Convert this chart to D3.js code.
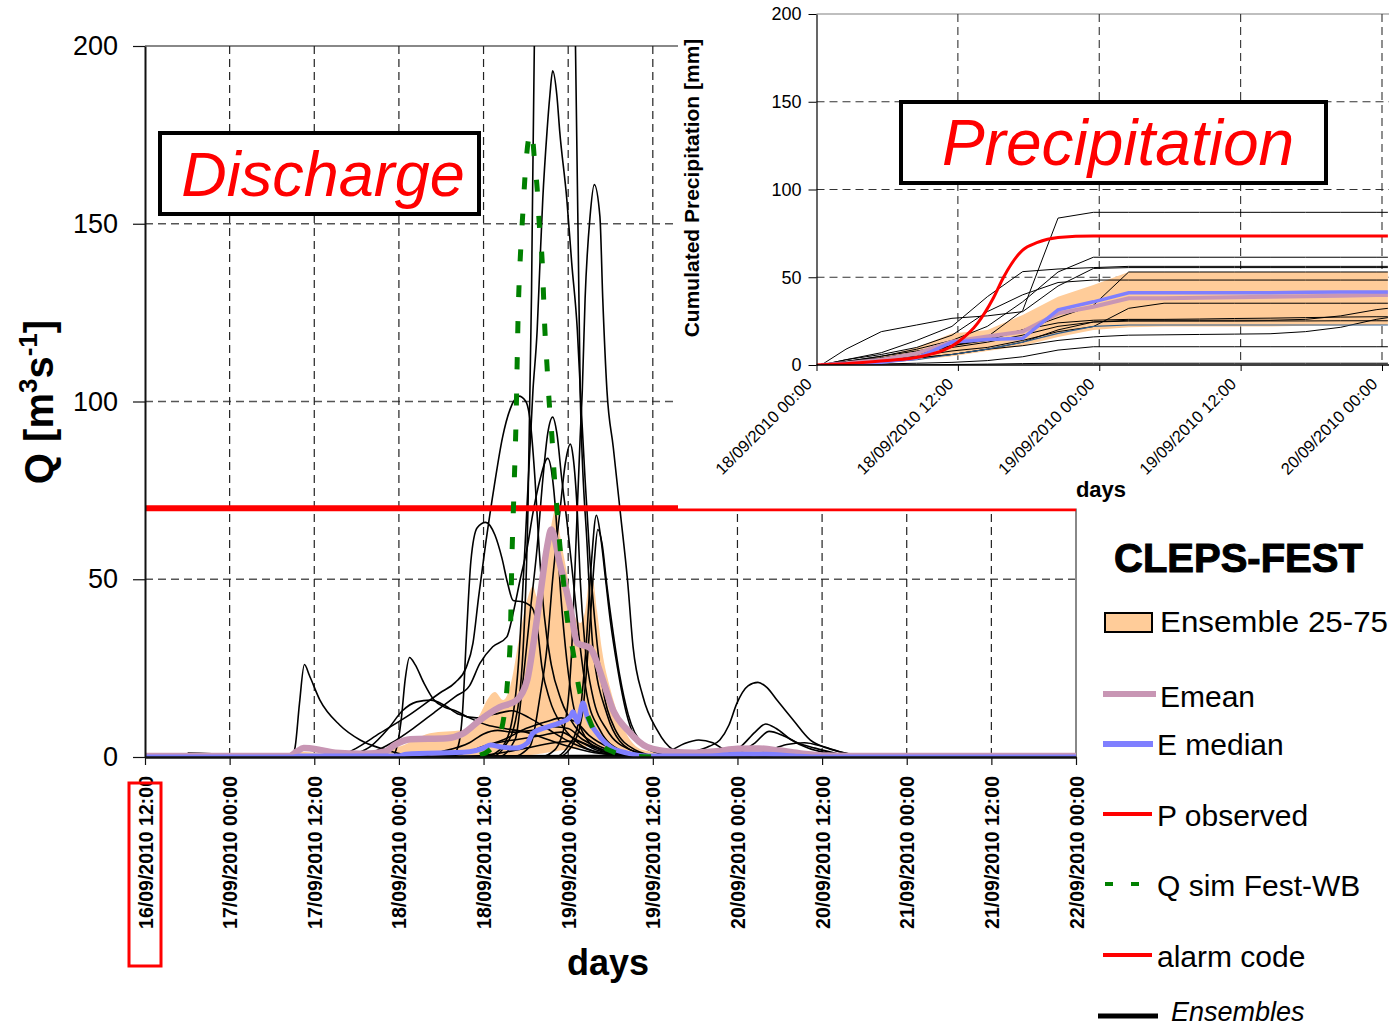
<!DOCTYPE html>
<html><head><meta charset="utf-8">
<script src="https://cdn.jsdelivr.net/npm/d3@7"></script>
<style>
body{margin:0;background:#fff;}
svg{display:block;font-family:"Liberation Sans",Arial,sans-serif;}
</style></head><body>
<svg id="c" width="1391" height="1027"></svg>
<script>
// ---------------- MAIN (discharge) DATA : hours since 16/09/2010 12:00 ----------------
const qTickHours = [0,12,24,36,48,60,72,84,96,108,120,132];
const qTickLabels = ["16/09/2010 12:00","17/09/2010 00:00","17/09/2010 12:00","18/09/2010 00:00","18/09/2010 12:00","19/09/2010 00:00","19/09/2010 12:00","20/09/2010 00:00","20/09/2010 12:00","21/09/2010 00:00","21/09/2010 12:00","22/09/2010 00:00"];
const qTicks = [0,50,100,150,200];
const alarmLevel = 70;

const ensA = [[0,0],[20.8,0],[21.3,3],[21.9,15],[22.6,26],[23.3,23],[24.8,16],[27.6,9],[30.5,4.8],[33.3,2.5],[36,1],[40,0]];
const ensB = [[0,0],[35,0],[35.6,2],[36.3,10],[36.9,22],[37.5,28],[38.3,26],[39.5,21],[41,16],[42.5,14],[44,13],[46,11],[48.5,9],[51,8],[54,7],[57,5],[60,3],[63,1.5],[67,0.5],[72,0]];
const ensJ = [[0,0],[28,0],[30,1],[32,3],[34.5,8],[36.5,13],[38.5,15.5],[40.5,16],[42.5,14.5],[44.5,12],[47,11],[49.5,12],[52,13],[54.5,11],[57,8],[60,4.5],[63,2],[67,0.6],[72,0]];
const ensC = [[0,0],[27,0],[29.5,2],[33.3,6.7],[37.6,12],[41.8,18],[44,21],[45.5,25],[46.5,32],[47.3,45],[48.3,60],[49.5,76],[50.7,90],[51.8,98],[53,101.5],[54,100],[54.7,93],[55.3,78],[55.9,58],[56.6,40],[57.6,26],[59,16],[61,8.5],[64,3.5],[68,1],[73,0]];
const ensL = [[0,0],[30,0],[32.5,1.5],[35,4],[38,8],[41,12.5],[44,17],[46,20],[47.5,26.4],[49.3,31],[51.3,33.8],[52.2,40.5],[53.2,50],[54.2,59],[55,68.6],[56,78],[57.1,84],[57.8,78],[58.4,64],[58.8,50],[59.6,31],[60.5,17],[62.1,6.8],[64.5,2],[68,0.3],[72,0]];
const ensP = [[0,0],[43.5,0],[44.4,3],[45,12],[45.6,35],[46.2,55],[47.1,64.5],[48.3,66],[49.6,62.5],[50.6,56],[51.4,49],[52.2,44],[53.6,43.6],[54.9,42],[55.6,36.6],[56.3,25],[57.4,16],[59.3,8.4],[61.7,3.5],[64.5,1.2],[68,0.3],[72,0]];
const ensD = [[0,0],[49,0],[51,3],[52.5,10],[53.6,30],[54.3,70],[54.8,130],[55.2,200],[56.2,250],[58,270],[59.8,250],[61,205],[61.7,103],[62.7,59],[63.5,31],[65.5,12],[67.3,4.5],[70.2,1],[73,0]];
const ensE = [[0,0],[48,0],[50.3,2],[51.8,8],[52.9,25],[53.9,60],[55,103],[55.6,120],[56,139],[56.4,157],[57,176],[57.4,186],[57.8,193],[58.4,186],[58.8,176],[59.8,157],[60.5,139],[61.3,120],[61.8,100],[62.4,78],[63.1,55],[64.5,25],[66.6,8],[69.5,2],[73,0]];
const ensF = [[0,0],[56,0],[58.1,2],[59.6,10],[60.5,30],[61.1,60],[61.7,90],[62,103],[62.4,129],[63.1,152],[63.7,161],[64.5,152],[64.9,129],[65.5,103],[66.4,87],[67.4,68.6],[68.4,50],[69.2,31],[70.6,17],[72.6,7.6],[74.9,2],[78.7,0]];
const ensG = [[0,0],[50,0],[52.5,5],[53.6,21.7],[54.6,40.5],[55.6,59],[56.4,78],[57.1,91],[57.8,95.6],[58.4,91],[59.1,78],[59.8,66.7],[60.7,50],[61.7,31],[62.7,17],[64.5,7.6],[67.3,2],[71.6,0]];
const ensH = [[0,0],[52,0],[54.6,3],[56,17],[57,31],[57.8,50],[58.8,68.6],[59.6,82.7],[60.3,88],[60.7,84.4],[61.3,68.6],[61.7,50],[62.4,31],[63.5,17],[65.5,7.6],[68.8,2],[73,0]];
const ensQ68 = [[0,0],[58,0],[60,3],[61.5,10],[62.5,30],[63.3,55],[64,68],[64.6,62],[65.3,50],[66,38],[67,25],[68.3,12],[70,4],[73,1],[77,0]];
const ensQ64 = [[0,0],[58.5,0],[60.5,3],[62,12],[63,35],[63.7,55],[64.2,64],[64.8,60],[65.5,48],[66.3,36],[67.3,23],[68.5,12],[70.5,4],[74,1],[78,0]];
const ensN1 = [[0,0],[40,0],[45,1],[48,3],[51,5],[54,8],[57,10],[59,11],[61,10],[63,6],[66,2.5],[70,0.8],[75,0]];
const ensN2 = [[0,0],[42,0],[47,2],[50,4],[53,5],[56,6],[59,7],[61,5],[64,2.5],[68,1],[73,0]];
const ensN3 = [[0,0],[45,0],[50,1],[54,2.5],[58,4],[61,4.5],[64,2],[68,0.5],[72,0]];
const ensN4 = [[0,0],[38,0],[42,1.5],[46,4],[48,6.5],[50,7.5],[52,7],[55,7.5],[58,8.5],[60,8],[62,5],[65,2],[69,0.5],[74,0]];
const ensR21 = [[0,0],[74,0],[77.7,1.4],[80,3],[81.5,4.8],[82.8,9],[83.9,15],[85.5,20],[86.9,21],[88.2,19.5],[89.6,16],[91.9,10.4],[94.3,4.8],[96.7,2.5],[99,1.2],[102,0.3],[105,0]];
const ensR9 = [[0,0],[80,0],[82.5,1],[84.5,3],[86.5,7],[88,9.3],[89.5,8],[91.5,5],[94,2.5],[97,1],[100,0]];
const ensR7 = [[0,0],[82,0],[84.5,1.5],[86.5,4],[88.5,7.2],[90.5,6],[92.5,4],[95,2.5],[98,1],[101,0]];
const ensR5 = [[0,0],[72,0.5],[74.5,1.8],[76.5,3.8],[78.5,4.8],[80.5,4],[82,2.2],[84,1],[87,0.3],[90,0]];
const ensR4 = [[0,0],[85,0],[88,1.5],[91,3.5],[93.5,4],[96,3],[98.5,1.5],[101,0.5],[104,0]];
const ensS = [[0,0],[5.9,0],[6.1,1.1],[9.5,0.9],[9.7,0]];
const qMembers = [ensA,ensB,ensJ,ensC,ensL,ensP,ensD,ensE,ensF,ensG,ensH,ensQ68,ensQ64,ensN1,ensN2,ensN3,ensN4,ensR21,ensR9,ensR7,ensR5,ensR4,ensS];

const qMean = [[0,0.3],[20.5,0.3],[21.5,1.5],[22.5,2.5],[24.8,2],[27,1.2],[31,0.9],[34,1.5],[35.5,3.5],[37.6,5],[42.8,5.3],[45,6.5],[47.5,10.4],[50.3,14],[52.7,16],[54.2,21.7],[55,31],[56,45],[57,59],[57.6,64],[58.8,54.5],[60.3,42],[61.3,32],[63.1,30.7],[63.8,28],[64.9,21.7],[66.4,13],[68.4,7.6],[71.2,2.8],[74.9,1.4],[78,1.2],[81,1.6],[84,2.3],[87,2.4],[90,1.8],[93,1],[96,0.4],[100,0.3],[132,0.3]];
const qMedian = [[0,0],[21,0],[22,0.3],[36,0.3],[37,0.8],[46,1.5],[48,2.5],[49,3.4],[50.5,2.8],[52.5,2.5],[54.2,3.9],[55,6.7],[57,8.4],[58.8,9.6],[60.3,11.3],[60.7,12.7],[61.3,9.8],[62.1,15.2],[62.7,11.3],[64.1,6.7],[66,2.8],[68.4,1.1],[71,0.3],[80,0.3],[84,0.8],[88,0.8],[92,0.3],[95,0],[132,0]];
const qSim = [[47.5,0.5],[48.9,2],[50,4.8],[51,13],[51.5,24],[51.8,34],[52,54],[52.3,74],[52.6,94],[52.9,124],[53.3,144],[53.6,154],[53.9,164],[54.4,174],[54.8,176],[55.3,166],[55.6,160],[55.9,150],[56.3,140],[56.7,120],[57,110],[57.3,100],[57.7,90],[58,80],[58.4,70],[58.8,60],[59.3,50],[59.8,40],[60.7,29.5],[61.5,19.7],[63.1,10],[64.5,4],[66.4,1.4],[68.8,0.3],[73,0]];

const bandHours = [0,20.6,22,24.8,33.3,36.2,40.4,45.1,47.5,48.5,49.6,50.8,51.8,53.2,54.3,55,55.6,56.3,57.1,58.3,58.8,59.8,60.7,61.7,62.4,63.1,63.5,64.1,64.8,66,67.8,70.6,73.7,78.7,82.9,87.2,91.4,95.7,100,132];
const bandUpper = [0,0,1.5,1.2,1.5,3,6.7,7.6,12,16,18.3,16,20,35,45,48,45,49,59,70,63,52,41,37.7,41,50.6,50,41,30,19,8.4,2,1.2,1,1.8,2.5,1.8,0.6,0,0];
const bandLower = [0,0,0,0,0,0,0,0,0,0,0,0,0,0,0.4,0.6,0.8,1,1.3,1.6,1.8,2,2.3,2.6,2.8,3,3,2.8,2.5,1.8,1,0.3,0,0,0,0,0,0,0,0];

// ---------------- INSET (precipitation) DATA : hours since 18/09/2010 00:00 ----------------
const pTickHours = [0,12,24,36,48];
const pTickLabels = ["18/09/2010 00:00","18/09/2010 12:00","19/09/2010 00:00","19/09/2010 12:00","20/09/2010 00:00"];
const pTicks = [0,50,100,150,200];
const pTimes = [0.4,2.5,5.5,8.5,11.5,14.5,17.5,20.5,23.5,26.5,29.5,32.5,35.5,38.5,41.5,44.5,47.5,48.5];
const p01 = [0,1,3,6,11,16,31,83.7,87,87,87,87,87,87,87,87,87,87];
const p02 = [0,2,5,9,14,22,36,53,61.4,61.4,61.4,61.4,61.4,61.4,61.4,61.4,61.4,61.4];
const p03 = [0,3,7,14,22,38.9,53.2,54.7,55.5,56.2,56.2,56.2,56.2,56.2,56.2,56.2,56.2,56.2];
const p04 = [0,9,19,22.8,26.6,28,30.4,45,55,55.5,55.5,55.5,55.5,55.5,55.5,55.5,55.5,55.5];
const p05 = [0,2,4,7,11,14,20,27,34,53,53,53,53,53,53,53,53,53];
const p06 = [0,3,6,10,17,30.4,40,47,48.4,48.4,48.4,48.4,48.4,48.4,48.4,48.4,48.4,48.4];
const p07 = [0,1,3,5,8,10,14,19,21.9,32.3,35.2,35.2,35.2,35.2,35.2,35.2,35.2,35.2];
const p08 = [0,1,2,4,6,9,11,14,16,17,17.2,17.4,17.6,17.8,19,21.5,26,27];
const p09 = [0,2,5,8,11,15,20,24,25.5,26,26,26.2,26.5,26.7,27,27.3,27.5,27.5];
const p10 = [0,1,2,4,6,9,13,20,24.5,25,25,25,25,25.1,25.1,25.2,25.2,25.2];
const p11 = [0,0.5,1.5,3,6,9,13,18,22,22.8,22.8,22.8,22.8,22.8,22.8,22.8,22.8,22.8];
const p12 = [0,0.3,0.6,1,1.5,2.5,4.7,8.5,10.4,10.4,10.4,10.4,10.4,10.4,10.4,10.4,10.4,10.4];
const p13 = [0,0,0,0,0.3,0.5,0.8,1,1,1,1,1,1,1,1,1,1,1];
const p14 = [0,2,4,7,10,13,17,22,24.5,25.5,25.5,25.5,25.5,25.5,26,28,31.5,32.3];
const pMembers = [p01,p02,p03,p04,p05,p06,p07,p08,p09,p10,p12,p13,p14];
const pBlueMember = p11;
const pBandUpper = [0,2,4.7,10,18,20,28.5,38.9,45.6,53,53,53,53,53,53,53,53,53];
const pBandLower = [0,0.3,0.8,2.9,5,8,11,16,20,21.5,22,22,22,22,22.3,22.5,22.8,22.8];
const pMean = [0,1,3,6.6,13.3,16.2,19.1,29.4,33.2,38,38,38.3,38.6,38.9,39.2,39.5,39.9,39.9];
const pMedian = [0,0.5,1.5,4,13,14.5,15.2,31.4,36,41.2,41.2,41.2,41.2,41.2,41.4,41.6,41.6,41.6];
const pObsHours = [0,3,6,9,12,13.7,15,15.9,17.5,18.7,20.5,23.5,48.5];
const pObs = [0,1,2.5,5,13,24,38,50.3,65.5,69.7,72.7,73.5,73.5];

// ---------------- LEGEND ----------------
const legendTitle = "CLEPS-FEST";
const legendLabels = ["Ensemble 25-75","Emean","E median","P observed","Q sim Fest-WB","alarm code","Ensembles"];

// ---------------- COLOURS ----------------
const cBand = "#FFCC99", cMean = "#C896B4", cMedian = "#7F7FFF", cRed = "#FF0000", cGreen = "#008000";

const svg = d3.select("#c");

// ================= MAIN CHART =================
const xQ = d3.scaleLinear().domain([0,132]).range([145,1076]);
const yQ = d3.scaleLinear().domain([0,200]).range([757,46]);
svg.append("clipPath").attr("id","qclip").append("rect")
  .attr("x",xQ(0)).attr("y",yQ(200)).attr("width",xQ(132)-xQ(0)).attr("height",yQ(0)-yQ(200));

const gM = svg.append("g");
gM.selectAll(".hg").data(qTicks.filter(d=>d>0 && d<200)).join("line")
  .attr("x1",xQ(0)).attr("x2",xQ(132)).attr("y1",d=>yQ(d)).attr("y2",d=>yQ(d))
  .attr("stroke","#555").attr("stroke-width",1.3).attr("stroke-dasharray","8,5");
gM.append("line").attr("x1",xQ(0)).attr("x2",xQ(132)).attr("y1",yQ(200)).attr("y2",yQ(200))
  .attr("stroke","#888").attr("stroke-width",2);
gM.selectAll(".vg").data(qTickHours.filter(d=>d>0 && d<132)).join("line")
  .attr("x1",d=>xQ(d)).attr("x2",d=>xQ(d)).attr("y1",yQ(200)).attr("y2",yQ(0))
  .attr("stroke","#222").attr("stroke-width",1.2).attr("stroke-dasharray","8,5");
gM.append("line").attr("x1",xQ(132)).attr("x2",xQ(132)).attr("y1",yQ(200)).attr("y2",yQ(0))
  .attr("stroke","#888").attr("stroke-width",2);

const plotQ = gM.append("g").attr("clip-path","url(#qclip)");
const bandData = bandHours.map((h,i)=>({h, lo:bandLower[i], hi:bandUpper[i]}));
plotQ.append("path").datum(bandData)
  .attr("d", d3.area().x(d=>xQ(d.h)).y0(d=>yQ(d.lo)).y1(d=>yQ(d.hi)).curve(d3.curveMonotoneX))
  .attr("fill",cBand);
const lineQ = d3.line().x(d=>xQ(d[0])).y(d=>yQ(d[1])).curve(d3.curveMonotoneX);
plotQ.selectAll(".ens").data(qMembers).join("path")
  .attr("d",lineQ).attr("fill","none").attr("stroke","#000").attr("stroke-width",1.6);
plotQ.append("path").datum(qMean).attr("d",lineQ).attr("fill","none")
  .attr("stroke",cMean).attr("stroke-width",6.5).attr("stroke-linejoin","round");
plotQ.append("path").datum(qMedian).attr("d",lineQ).attr("fill","none")
  .attr("stroke",cMedian).attr("stroke-width",5).attr("stroke-linejoin","round");
plotQ.append("line").attr("x1",xQ(0)).attr("x2",xQ(132)).attr("y1",yQ(alarmLevel)).attr("y2",yQ(alarmLevel))
  .attr("stroke",cRed).attr("stroke-width",6);
plotQ.append("path").datum(qSim).attr("d",lineQ).attr("fill","none")
  .attr("stroke",cGreen).attr("stroke-width",5).attr("stroke-dasharray","12,24");

const axY = gM.append("g").attr("transform",`translate(${xQ(0)},0)`)
  .call(d3.axisLeft(yQ).tickValues(qTicks).tickSize(12).tickSizeOuter(0).tickPadding(15).tickFormat(d3.format("d")));
axY.select(".domain").attr("stroke","#111").attr("stroke-width",2);
axY.selectAll(".tick line").attr("stroke","#111").attr("stroke-width",1.2);
axY.selectAll("text").attr("font-size",27).attr("fill","#000").attr("font-family","Liberation Sans, Arial, sans-serif");
const axX = gM.append("g").attr("transform",`translate(0,${yQ(0)})`)
  .call(d3.axisBottom(xQ).tickValues(qTickHours).tickSize(8).tickSizeOuter(0).tickFormat((d,i)=>qTickLabels[i]));
axX.select(".domain").attr("stroke","#111").attr("stroke-width",2.5);
axX.selectAll(".tick line").attr("stroke","#111").attr("stroke-width",1.2);
axX.selectAll("text").attr("x",0).attr("y",0).attr("dy",0)
  .attr("transform","translate(7,19) rotate(-90)").attr("text-anchor","end")
  .attr("font-size",19.5).attr("font-weight","bold").attr("fill","#000")
  .attr("font-family","Liberation Sans, Arial, sans-serif");
svg.append("rect").attr("x",129).attr("y",783).attr("width",32).attr("height",183)
  .attr("fill","none").attr("stroke",cRed).attr("stroke-width",3);
svg.append("text").attr("x",608).attr("y",975).attr("text-anchor","middle")
  .attr("font-size",36).attr("font-weight","bold").text("days");
const ylab = svg.append("text").attr("transform","translate(53,402) rotate(-90)").attr("text-anchor","middle")
  .attr("font-size",40).attr("font-weight","bold");
ylab.append("tspan").text("Q [m");
ylab.append("tspan").attr("font-size",26).attr("dy",-16).text("3");
ylab.append("tspan").attr("dy",16).text("s");
ylab.append("tspan").attr("font-size",26).attr("dy",-16).text("-1");
ylab.append("tspan").attr("dy",16).text("]");
svg.append("rect").attr("x",160).attr("y",133).attr("width",319).attr("height",81)
  .attr("fill","#fff").attr("stroke","#000").attr("stroke-width",4);
svg.append("text").attr("x",323).attr("y",196).attr("text-anchor","middle")
  .attr("font-size",63).attr("font-style","italic").attr("fill",cRed).text("Discharge");

// ================= INSET =================
svg.append("rect").attr("x",678).attr("y",0).attr("width",713).attr("height",508.5).attr("fill","#fff");
const xP = d3.scaleLinear().domain([0,48]).range([816.5,1382]);
const yP = d3.scaleLinear().domain([0,200]).range([365,14]);
const xPend = 1389;
svg.append("clipPath").attr("id","pclip").append("rect")
  .attr("x",xP(0)).attr("y",yP(200)).attr("width",xPend-xP(0)).attr("height",yP(0)-yP(200));
const gP = svg.append("g");
gP.selectAll(".hg").data(pTicks.filter(d=>d>0 && d<200)).join("line")
  .attr("x1",xP(0)).attr("x2",xPend).attr("y1",d=>yP(d)).attr("y2",d=>yP(d))
  .attr("stroke","#333").attr("stroke-width",1.1).attr("stroke-dasharray","8,5");
gP.append("line").attr("x1",xP(0)).attr("x2",xPend).attr("y1",yP(200)).attr("y2",yP(200))
  .attr("stroke","#aaa").attr("stroke-width",1.5);
gP.selectAll(".vg").data(pTickHours.filter(d=>d>0)).join("line")
  .attr("x1",d=>xP(d)).attr("x2",d=>xP(d)).attr("y1",yP(200)).attr("y2",yP(0))
  .attr("stroke","#333").attr("stroke-width",1.1).attr("stroke-dasharray","8,5");
const plotP = gP.append("g").attr("clip-path","url(#pclip)");
const pBandData = pTimes.map((t,i)=>({t, lo:pBandLower[i], hi:pBandUpper[i]}));
plotP.append("path").datum(pBandData)
  .attr("d",d3.area().x(d=>xP(d.t)).y0(d=>yP(d.lo)).y1(d=>yP(d.hi)))
  .attr("fill",cBand);
const lineP = d3.line().x((d,i)=>xP(pTimes[i])).y(d=>yP(d));
plotP.selectAll(".pens").data(pMembers).join("path")
  .attr("d",lineP).attr("fill","none").attr("stroke","#000").attr("stroke-width",1);
plotP.append("path").datum(pBlueMember).attr("d",lineP).attr("fill","none")
  .attr("stroke","#2F5F8F").attr("stroke-width",1.2);
plotP.append("path").datum(pMean).attr("d",lineP).attr("fill","none")
  .attr("stroke",cMean).attr("stroke-width",4);
plotP.append("path").datum(pMedian).attr("d",lineP).attr("fill","none")
  .attr("stroke",cMedian).attr("stroke-width",3.5);
plotP.append("path").datum(pObs)
  .attr("d",d3.line().x((d,i)=>xP(pObsHours[i])).y(d=>yP(d)).curve(d3.curveMonotoneX))
  .attr("fill","none").attr("stroke",cRed).attr("stroke-width",3);

const pay = gP.append("g").attr("transform",`translate(${xP(0)},0)`)
  .call(d3.axisLeft(yP).tickValues(pTicks).tickSize(8).tickSizeOuter(0).tickPadding(7).tickFormat(d3.format("d")));
pay.select(".domain").attr("stroke","#000").attr("stroke-width",1.2);
pay.selectAll("text").attr("font-size",18).attr("fill","#000").attr("font-family","Liberation Sans, Arial, sans-serif");
const pax = gP.append("g").attr("transform",`translate(0,${yP(0)})`)
  .call(d3.axisBottom(xP).tickValues(pTickHours).tickSize(6).tickSizeOuter(0).tickFormat((d,i)=>pTickLabels[i]));
pax.select(".domain").attr("stroke","#000").attr("stroke-width",1.5).attr("d",`M0,0H${xPend-xP(0)}`).attr("transform",`translate(${xP(0)},0)`);
pax.selectAll("text").attr("x",0).attr("y",0).attr("dy",0)
  .attr("transform","translate(-4,20) rotate(-45)").attr("text-anchor","end")
  .attr("font-size",16.5).attr("fill","#000").attr("font-family","Liberation Sans, Arial, sans-serif");
svg.append("text").attr("x",1101).attr("y",497).attr("text-anchor","middle")
  .attr("font-size",22).attr("font-weight","bold").text("days");
svg.append("text").attr("transform","translate(699,188) rotate(-90)").attr("text-anchor","middle")
  .attr("font-size",21).attr("font-weight","bold").text("Cumulated Precipitation [mm]");
svg.append("rect").attr("x",901).attr("y",102).attr("width",425).attr("height",81)
  .attr("fill","#fff").attr("stroke","#000").attr("stroke-width",4);
svg.append("text").attr("x",1118).attr("y",165).attr("text-anchor","middle")
  .attr("font-size",64).attr("font-style","italic").attr("fill",cRed).text("Precipitation");

// ================= LEGEND =================
const gL = svg.append("g");
gL.append("text").attr("x",1114).attr("y",572).attr("font-size",40).attr("font-weight","bold")
  .attr("stroke","#000").attr("stroke-width",1).text(legendTitle);
gL.append("rect").attr("x",1105).attr("y",613).attr("width",47).attr("height",19)
  .attr("fill",cBand).attr("stroke","#000").attr("stroke-width",2);
const legItems = [
  {y:694, x1:1103, x2:1156, c:cMean, w:6, dash:null, ty:707, tx:1160},
  {y:744, x1:1103, x2:1153, c:cMedian, w:6, dash:null, ty:755, tx:1157},
  {y:814, x1:1103, x2:1152, c:cRed, w:4, dash:null, ty:826, tx:1157},
  {y:884, x1:1105, x2:1141, c:cGreen, w:4, dash:"8,18", ty:896, tx:1157},
  {y:955, x1:1103, x2:1152, c:cRed, w:4, dash:null, ty:967, tx:1157},
  {y:1016, x1:1098, x2:1158, c:"#000", w:5, dash:null, ty:1021, tx:1171}
];
gL.append("text").attr("x",1160).attr("y",632).attr("font-size",30)
  .attr("textLength",228).attr("lengthAdjust","spacingAndGlyphs").text(legendLabels[0]);
legItems.forEach((it,i)=>{
  const ln = gL.append("line").attr("x1",it.x1).attr("x2",it.x2).attr("y1",it.y).attr("y2",it.y)
    .attr("stroke",it.c).attr("stroke-width",it.w);
  if(it.dash) ln.attr("stroke-dasharray",it.dash);
  gL.append("text").attr("x",it.tx).attr("y",it.ty).attr("font-size", i===5 ? 27 : 30)
    .attr("font-style", i===5 ? "italic" : "normal").text(legendLabels[i+1]);
});
</script></body></html>
